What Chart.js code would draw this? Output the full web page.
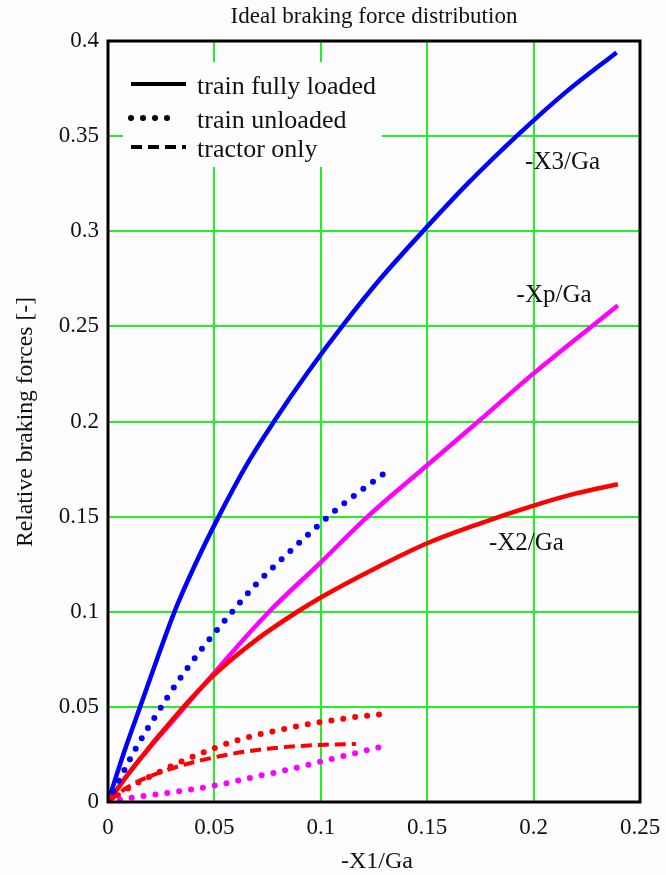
<!DOCTYPE html>
<html>
<head>
<meta charset="utf-8">
<title>Ideal braking force distribution</title>
<script src="https://cdn.jsdelivr.net/npm/chart.js@4.4.1/dist/chart.umd.min.js"></script>
<style>
  html, body { margin: 0; padding: 0; background: #fdfcff; }
  #wrap { width: 666px; height: 875px; }
</style>
</head>
<body>
<div id="wrap"><canvas id="chart" width="666" height="875"></canvas></div>
<script>
// Valores
const xTickLabels = ['0', '0.05', '0.1', '0.15', '0.2', '0.25'];
const yTickLabels = ['0', '0.05', '0.1', '0.15', '0.2', '0.25', '0.3', '0.35', '0.4'];

// tren cargado (lineas continuas)
const x3FullX = [0, 0.0075, 0.0151, 0.0316, 0.04, 0.052, 0.065, 0.078, 0.094, 0.110, 0.128, 0.148, 0.169, 0.192, 0.215, 0.239];
const x3FullY = [0, 0.026, 0.05, 0.101, 0.1225, 0.15, 0.177, 0.2, 0.226, 0.25, 0.275, 0.3, 0.325, 0.35, 0.373, 0.394];
const xpFullX = [0, 0.01, 0.0354, 0.05, 0.0757, 0.1, 0.122, 0.15, 0.174, 0.2, 0.2396];
const xpFullY = [0, 0.0155, 0.049, 0.068, 0.1, 0.126, 0.15, 0.177, 0.2, 0.2253, 0.261];
const x2FullX = [0, 0.01, 0.0347, 0.05, 0.07, 0.089, 0.1, 0.125, 0.15, 0.175, 0.2, 0.22, 0.2396];
const x2FullY = [0, 0.0155, 0.049, 0.067, 0.0855, 0.1, 0.1075, 0.1225, 0.136, 0.1465, 0.1558, 0.1622, 0.167];

// tren descargado (puntos)
const x3UnX = [0, 0.0135, 0.0233, 0.0335, 0.0447, 0.0563, 0.0686, 0.0819, 0.0956, 0.1091, 0.1299];
const x3UnY = [0, 0.029, 0.0469, 0.0644, 0.0813, 0.0972, 0.1133, 0.1279, 0.1422, 0.1553, 0.1728];
const x2UnX = [0, 0.01, 0.02, 0.033, 0.05, 0.0623, 0.0803, 0.1, 0.1173, 0.1296];
const x2UnY = [0, 0.0075, 0.0135, 0.0205, 0.0283, 0.033, 0.0378, 0.042, 0.0448, 0.0462];
const xpUnX = [0, 0.0127, 0.0377, 0.05, 0.0693, 0.0874, 0.1, 0.1296];
const xpUnY = [0, 0.0025, 0.0063, 0.0086, 0.0133, 0.0177, 0.0212, 0.0294];

// solo tractor (guiones)
const x2TracX = [0, 0.0095, 0.0277, 0.0505, 0.0749, 0.1, 0.1165];
const x2TracY = [0, 0.008, 0.0168, 0.0236, 0.028, 0.030, 0.0305];

const curveLabels = ['-X3/Ga', '-Xp/Ga', '-X2/Ga'];
const legendLabels = ['train fully loaded', 'train unloaded', 'tractor only'];

const FONT = '"Liberation Serif", "Times New Roman", serif';
const BLUE = '#0000ff', MAGENTA = '#ff00ff', RED = '#ff0000';
const GRID = '#22f022';

function pts(xs, ys) {
    return xs.map((x, i) => ({ x: x, y: ys[i] }));
}

function solid(data, color) {
    return { data: data, borderColor: color, borderWidth: 4.5, pointRadius: 0,
             showLine: true, cubicInterpolationMode: 'monotone', fill: false };
}
function dotted(data, color) {
    return { data: data, borderColor: color, borderWidth: 6, pointRadius: 0, showLine: true,
             borderDash: [0, 12], borderCapStyle: 'round', cubicInterpolationMode: 'monotone', fill: false };
}
function dashed(data, color) {
    return { data: data, borderColor: color, borderWidth: 4, pointRadius: 0, showLine: true,
             borderDash: [11, 6], borderCapStyle: 'butt', cubicInterpolationMode: 'monotone', fill: false };
}

// fondo, marco, leyenda y textos
const decoPlugin = {
    id: 'deco',
    beforeDraw(chart) {
        const ctx = chart.ctx;
        ctx.save();
        ctx.fillStyle = '#fdfcff';
        ctx.fillRect(0, 0, chart.width, chart.height);
        ctx.restore();
    },
    beforeDatasetsDraw(chart) {
        // caja blanca de la leyenda (tapa la rejilla)
        const ctx = chart.ctx;
        ctx.save();
        ctx.fillStyle = '#fdfcff';
        ctx.fillRect(123, 62, 259, 105);
        ctx.restore();
    },
    afterDraw(chart) {
        const ctx = chart.ctx;
        const a = chart.chartArea;
        const xs = chart.scales.x, ys = chart.scales.y;
        ctx.save();

        // marco negro
        ctx.strokeStyle = '#000';
        ctx.lineWidth = 3;
        ctx.strokeRect(a.left, a.top, a.right - a.left, a.bottom - a.top);

        // titulo
        ctx.fillStyle = '#111';
        ctx.textAlign = 'center';
        ctx.textBaseline = 'middle';
        ctx.font = '23px ' + FONT;
        ctx.fillText('Ideal braking force distribution', (a.left + a.right) / 2, 17);

        // titulos de ejes
        ctx.font = '24px ' + FONT;
        ctx.fillText('-X1/Ga', (a.left + a.right) / 2 + 3, 862);
        ctx.font = '23px ' + FONT;
        const yTitle = 'Relative braking forces [-]';
        const w = ctx.measureText(yTitle).width;
        ctx.save();
        ctx.translate(26, 422);
        ctx.rotate(-Math.PI / 2);
        ctx.scale(250 / w, 1);
        ctx.fillText(yTitle, 0, 0);
        ctx.restore();

        // etiquetas de curvas
        ctx.textAlign = 'left';
        ctx.font = '25px ' + FONT;
        const anchors = [[0.196, 0.336], [0.192, 0.266], [0.179, 0.136]];
        curveLabels.forEach((t, i) => {
            ctx.fillText(t, xs.getPixelForValue(anchors[i][0]), ys.getPixelForValue(anchors[i][1]));
        });

        // leyenda
        ctx.font = '26px ' + FONT;
        const rows = [84, 118, 147];
        legendLabels.forEach((t, i) => {
            ctx.beginPath();
            ctx.strokeStyle = '#000';
            if (i === 0) { ctx.lineWidth = 4; ctx.setLineDash([]); ctx.lineCap = 'butt'; }
            if (i === 1) { ctx.lineWidth = 6; ctx.setLineDash([0, 12]); ctx.lineCap = 'round'; }
            if (i === 2) { ctx.lineWidth = 4; ctx.setLineDash([11, 6]); ctx.lineCap = 'butt'; }
            ctx.moveTo(131, rows[i]);
            ctx.lineTo(i === 1 ? 178 : 186, rows[i]);
            ctx.stroke();
            ctx.setLineDash([]);
            ctx.fillStyle = '#111';
            ctx.fillText(t, 197, rows[i] + 3);
        });
        ctx.restore();
    }
};

const ctx = document.getElementById('chart').getContext('2d');
new Chart(ctx, {
    type: 'scatter',
    data: {
        datasets: [
            dashed(pts(x2TracX, x2TracY), RED),
            dotted(pts(xpUnX, xpUnY), MAGENTA),
            dotted(pts(x2UnX, x2UnY), RED),
            dotted(pts(x3UnX, x3UnY), BLUE),
            solid(pts(x2FullX, x2FullY), RED),
            solid(pts(xpFullX, xpFullY), MAGENTA),
            solid(pts(x3FullX, x3FullY), BLUE)
        ]
    },
    options: {
        responsive: false,
        animation: false,
        layout: { padding: { top: 41, right: 26, left: 0, bottom: 0 } },
        plugins: { legend: { display: false }, tooltip: { enabled: false }, title: { display: false } },
        scales: {
            x: {
                type: 'linear', min: 0, max: 0.25,
                afterFit: s => { s.height = 73; s.paddingRight = 0; s.paddingLeft = 0; },
                grid: { color: GRID, lineWidth: 2, drawTicks: false },
                border: { display: false },
                ticks: {
                    stepSize: 0.05, padding: 12, color: '#111', font: { family: FONT, size: 23 },
                    callback: (v, i) => xTickLabels[i]
                }
            },
            y: {
                type: 'linear', min: 0, max: 0.4,
                afterFit: s => { s.width = 108; s.paddingTop = 0; s.paddingBottom = 0; },
                grid: { color: GRID, lineWidth: 2, drawTicks: false },
                border: { display: false },
                ticks: {
                    stepSize: 0.05, padding: 9, color: '#111', font: { family: FONT, size: 23 },
                    callback: (v, i) => yTickLabels[i]
                }
            }
        }
    },
    plugins: [decoPlugin]
});
</script>
</body>
</html>
